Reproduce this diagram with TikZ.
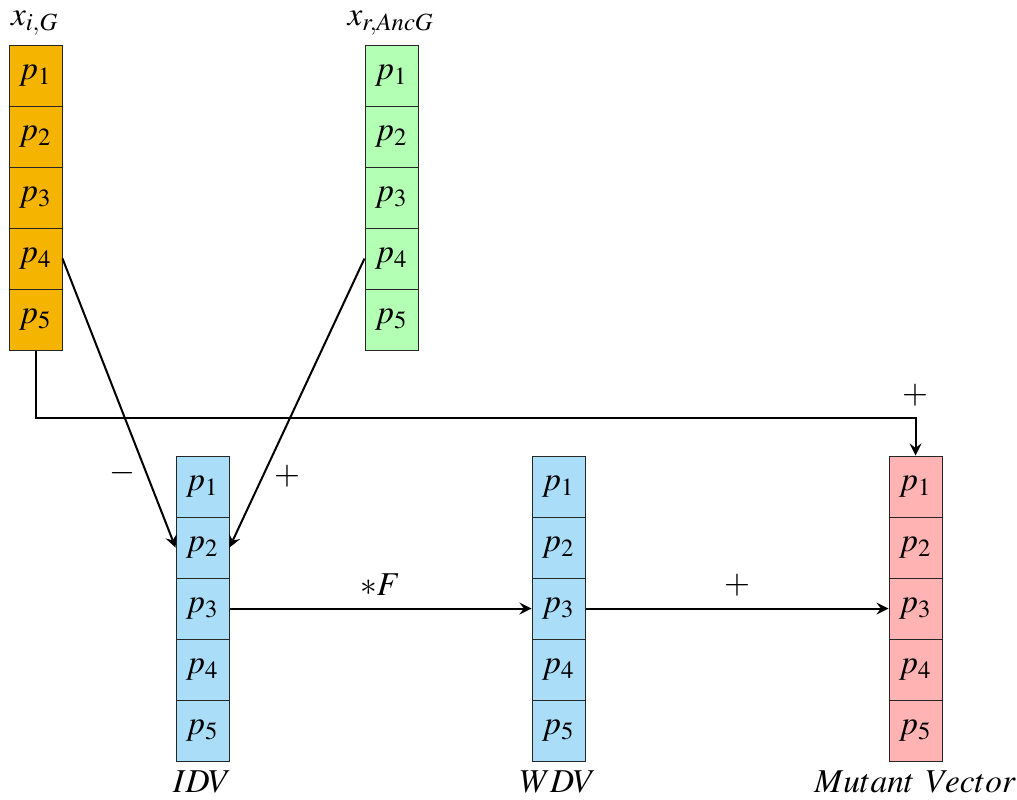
\documentclass[tikz,border=0pt]{standalone}
\usepackage{mathptmx}
\usetikzlibrary{arrows}

\definecolor{orangecell}{RGB}{245,180,0}
\definecolor{greencell}{RGB}{179,255,179}
\definecolor{bluecell}{RGB}{170,222,248}
\definecolor{pinkcell}{RGB}{255,179,179}

\tikzset{
  cell/.style={draw=black!85,line width=0.3pt,inner sep=0pt,minimum width=15.9pt,minimum height=18.3pt},
  link/.style={semithick,->,>=stealth},
}

\begin{document}
\begin{tikzpicture}[x=0.3pt,y=-0.3pt]

\useasboundingbox (0,0) rectangle (1017,799) ;

% vecteurs du haut

\foreach \k in {1,...,5} {
  \node[cell,fill=orangecell] (o\k) at (35.5,14.5+61*\k) {$p_{\k}$} ;
  \node[cell,fill=greencell] (g\k) at (391.5,14.5+61*\k) {$p_{\k}$} ;
}

\node[anchor=base] (xi) at (35,25) {$x_{i,G}$} ;
\node[anchor=base] (xr) at (391,25) {$x_{r,AncG}$} ;

% vecteurs du bas

\foreach \k in {1,...,5} {
  \node[cell,fill=bluecell] (b\k) at (202.5,425.5+61*\k) {$p_{\k}$} ;
  \node[cell,fill=bluecell] (w\k) at (558.5,425.5+61*\k) {$p_{\k}$} ;
  \node[cell,fill=pinkcell] (m\k) at (915.5,425.5+61*\k) {$p_{\k}$} ;
}

\node[anchor=base] (idv) at (202,792) {$IDV$} ;
\node[anchor=base] (wdv) at (558,792) {$WDV$} ;
\node[anchor=base] (mut) at (915,792) {$Mutant\ Vector$} ;

% fleches

\coordinate (coude) at (915.5,418) ;

\draw[link] (o4.east) -- (b2.west) ;
\draw[link] (g4.west) -- (b2.east) ;
\draw[link] (o5.south) |- (coude) -- (m1.north) ;
\draw[link] (b3.east) -- (w3.west) ;
\draw[link] (w3.east) -- (m3.west) ;

% signes

\node (moins) at (122,473) {$-$} ;
\node (plusa) at (287,476) {$+$} ;
\node (plusb) at (915,395) {$+$} ;
\node (foisf) at (380,585) {$*F$} ;
\node (plusc) at (737,585) {$+$} ;

\end{tikzpicture}
\end{document}
